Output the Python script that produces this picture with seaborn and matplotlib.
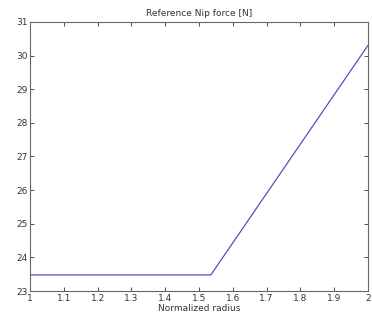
import matplotlib
matplotlib.use("Agg")
import matplotlib.pyplot as plt
import seaborn as sns
import pandas as pd

radius = [1.0, 1.535, 2.0]
nip_force = [23.48, 23.48, 30.3]
x_ticks = [1, 1.1, 1.2, 1.3, 1.4, 1.5, 1.6, 1.7, 1.8, 1.9, 2]
x_tick_labels = ["1", "1.1", "1.2", "1.3", "1.4", "1.5", "1.6", "1.7", "1.8", "1.9", "2"]
y_ticks = [23, 24, 25, 26, 27, 28, 29, 30, 31]

sns.set_style("ticks")
plt.rcParams['font.family'] = ['DejaVu Sans']

df = pd.DataFrame({"r": radius, "f": nip_force})

fig = plt.figure(figsize=(3.72, 3.22), dpi=100)
ax = fig.add_axes([0.081, 0.096, 0.908, 0.836])
sns.lineplot(data=df, x="r", y="f", ax=ax, color="#5050c8", linewidth=0.9)

ax.set_xlim(1, 2)
ax.set_ylim(23, 31)
ax.set_xticks(x_ticks)
ax.set_xticklabels(x_tick_labels)
ax.set_yticks(y_ticks)
ax.tick_params(direction="in", length=3, width=0.6, labelsize=6.5, colors="#333333",
               top=True, right=True, pad=2)
for s in ax.spines.values():
    s.set_visible(True)
    s.set_color("#666666")
    s.set_linewidth(0.8)
ax.set_xlabel("Normalized radius", fontsize=6.5, color="#333333", labelpad=1)
ax.set_ylabel("")
ax.set_title("Reference Nip force [N]", fontsize=6.5, color="#333333", pad=4)

fig.savefig("out.png", dpi=100)
